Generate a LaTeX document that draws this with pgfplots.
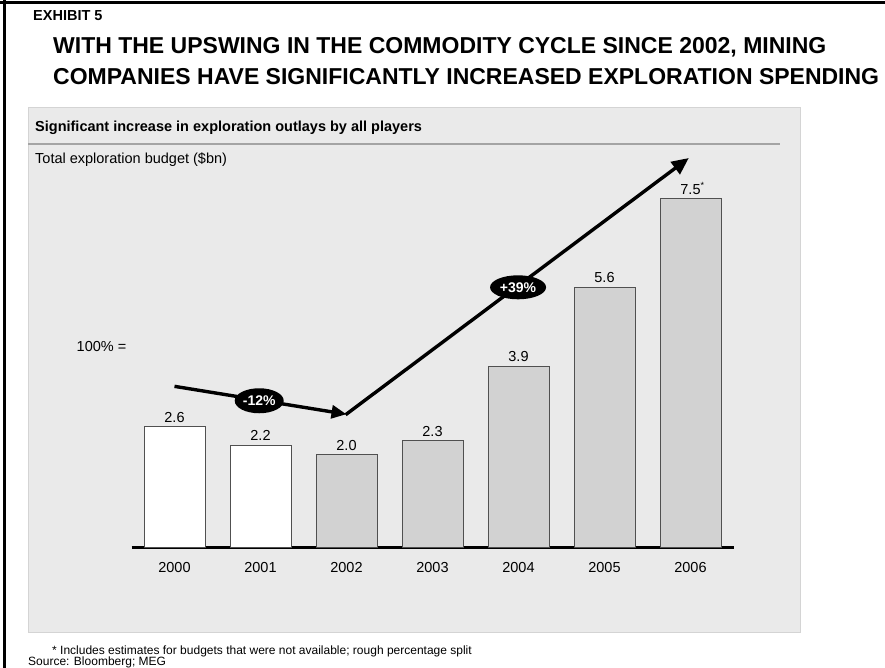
\documentclass[border=0pt]{standalone}
\usepackage{fontspec}
\setmainfont{Liberation Sans}
\usepackage{pgfplots}
\pgfplotsset{compat=1.18}
\usetikzlibrary{arrows.meta,shapes.geometric}

\definecolor{panel}{HTML}{EAEAEA}
\definecolor{panelrule}{HTML}{D4D4D4}
\definecolor{sepline}{HTML}{A4A4A4}
\definecolor{bargray}{HTML}{D2D2D2}
\definecolor{baredge}{HTML}{505050}
\newcommand{\fs}[1]{\fontsize{#1}{#1}\selectfont}

\begin{document}
\begin{tikzpicture}
\path[use as bounding box] (0pt,0pt) rectangle (885pt,-668pt);
\clip (0pt,0pt) rectangle (885pt,-668pt);

% page frame, titles and grey panel (1 unit = 1 px of the reference)
\begin{scope}[x=1pt,y=-1pt]
  \fill[white] (0,0) rectangle (885,668);
  \draw[line width=3pt] (0,3) -- (885,3);
  \draw[line width=3pt] (4,0) -- (4,668);
  \node[anchor=base west, inner sep=0pt, font=\bfseries\fs{14.5}] at (33,20.5) {EXHIBIT 5};
  \node[anchor=base west, inner sep=0pt, font=\bfseries\fs{23}] at (53,54)
    {WITH THE UPSWING IN THE COMMODITY CYCLE SINCE 2002, MINING};
  \node[anchor=base west, inner sep=0pt, font=\bfseries\fs{23}] at (53,84.5)
    {COMPANIES HAVE SIGNIFICANTLY INCREASED EXPLORATION SPENDING};
  \filldraw[fill=panel, draw=panelrule, line width=1pt] (28,108) rectangle (800,632);
  \node[anchor=base west, inner sep=0pt, font=\bfseries\fs{14.5}] at (35,132)
    {Significant increase in exploration outlays by all players};
  \draw[sepline, line width=2pt] (28,144) -- (780,144);
  \node[anchor=base west, inner sep=0pt, font=\fs{14.5}] at (35,164)
    {Total exploration budget (\$bn)};
  \node[anchor=base west, inner sep=0pt, font=\fs{14.5}] at (76.5,351) {100\% =};
  \node[anchor=base west, inner sep=0pt, font=\fs{12}] at (52,654.5)
    {* Includes estimates for budgets that were not available; rough percentage split};
  \node[anchor=base west, inner sep=0pt, font=\fs{12}] at (28,665.5)
    {Source: Bloomberg; MEG};
\end{scope}

\begin{axis}[
  at={(131.5pt,-547.7pt)}, anchor=south west,
  scale only axis, width=602pt, height=465pt,
  xmin=-0.5, xmax=6.5, ymin=0, ymax=10,
  ybar, bar width=61pt, bar shift=0pt,
  axis x line=bottom, axis y line=none,
  x axis line style={-, line width=3pt},
  major tick length=0pt,
  xtick={0,...,6},
  xticklabels={2000,2001,2002,2003,2004,2005,2006},
  xticklabel style={font=\fs{14.5}, inner sep=0pt, yshift=-14pt},
  ytick=\empty,
  point meta=explicit symbolic,
  nodes near coords,
  nodes near coords style={font=\fs{14.5}, inner sep=0pt, anchor=south, yshift=4pt},
  clip=false,
]
\addplot[fill=white, draw=baredge, line width=1pt] coordinates {
  (0,2.6) [2.6]
  (1,2.2) [2.2]
};
\addplot[fill=bargray, draw=baredge, line width=1pt] coordinates {
  (2,2.0) [2.0]
  (3,2.3) [2.3]
  (4,3.9) [3.9]
  (5,5.6) [5.6]
  (6,7.5) [{7.5\rlap{\raisebox{6pt}{\fs{9}*}}}]
};

% trend arrows and growth rates
\draw[line width=3.4pt, -{Triangle[length=15pt,width=13pt]}]
  (axis cs:0,3.47) -- (axis cs:2.0,2.87);
\draw[line width=3.4pt, -{Triangle[length=17pt,width=15pt]}]
  (axis cs:1.99,2.86) -- (axis cs:5.98,8.38);
\node[ellipse, fill=black, text=white, font=\bfseries\fs{14}, minimum width=49pt,
      minimum height=25pt, inner sep=0pt] at (axis cs:0.985,3.16) {-12\%};
\node[ellipse, fill=black, text=white, font=\bfseries\fs{14}, minimum width=56pt,
      minimum height=24pt, inner sep=0pt] at (axis cs:3.995,5.6) {+39\%};
\end{axis}
\end{tikzpicture}
\end{document}
